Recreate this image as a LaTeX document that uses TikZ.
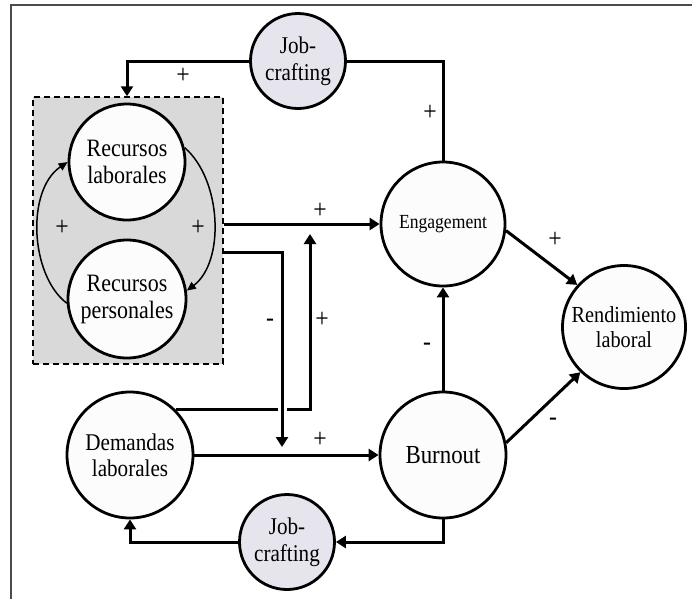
\documentclass[tikz,border=0pt]{standalone}
\usepackage{fontspec}
\setmainfont{Liberation Serif}[FakeStretch=0.88]
\usetikzlibrary{arrows.meta}
\definecolor{nodefill}{RGB}{252,252,252}
\definecolor{jcfill}{RGB}{230,228,236}
\definecolor{boxfill}{RGB}{217,217,217}
\begin{document}
\begin{tikzpicture}[x=1pt,y=-1pt,
  line/.style={line width=3pt},
  conn/.style={line width=3pt,-{Triangle[length=10pt,width=12pt]}},
  thin conn/.style={line width=1.5pt,-{Triangle[length=9pt,width=8pt]}},
  circ/.style={circle,draw,line width=2.8pt,fill=nodefill,inner sep=0pt,align=center},
  jc/.style={circ,fill=jcfill,minimum size=95pt,font=\fontsize{24}{27}\selectfont},
  lbl/.style={font=\fontsize{27}{27}\selectfont,inner sep=0pt},
  groupbox/.style={draw,line width=1.5pt,dash pattern=on 6pt off 4pt,fill=boxfill}]
\useasboundingbox (0,0) rectangle (692,598);
% outer frame (top and left visible)
\draw[line width=1.8pt,black!70] (11,600) -- (11,5) -- (694,5);
% group box
\node[groupbox,minimum width=190pt,minimum height=267pt,inner sep=0pt] (box) at (128,230.5) {};
% nodes
\node[jc] (jc1) at (298,61) {Job-\\crafting};
\node[circ,minimum size=116pt,font=\fontsize{25}{27}\selectfont] (rl) at (127,162) {Recursos\\laborales};
\node[circ,minimum size=118pt,font=\fontsize{25}{27}\selectfont] (rp) at (127,299) {Recursos\\personales};
\node[circ,minimum size=124pt,font=\fontsize{20}{22}\selectfont] (eng) at (443,224) {Engagement};
\node[circ,minimum size=123pt,font=\fontsize{23}{25}\selectfont] (rend) at (624,327) {Rendimiento\\laboral};
\node[circ,minimum size=126pt,font=\fontsize{26}{28}\selectfont] (burn) at (443,455) {Burnout};
\node[circ,minimum size=126pt,font=\fontsize{24}{26}\selectfont] (dem) at (130,455) {Demandas\\laborales};
\node[jc] (jc2) at (287,542) {Job-\\crafting};
% helper coordinates
\coordinate (boxout) at (223,252);
\coordinate (upend) at (310,234);
\coordinate (downend) at (282,447);
% connectors
\draw[conn] (jc1.west) -| (rl |- box.north);
\draw[line] (jc1.east) -| (eng.north);
\draw[conn] (box.east |- eng.west) -- (eng.west);
\draw[conn] (eng.-6) -- (rend.138);
\draw[conn] (burn.11) -- (rend.226);
\draw[conn] (burn.north) -- (eng.south);
\draw[conn] (dem.east) -- (burn.west);
\draw[conn] (dem.45) -| (upend);
\draw[draw=white,line width=9pt] (downend |- dem.45) ++(0,-7) -- ++(0,14);
\draw[conn] (boxout) -| (downend);
\draw[conn] (burn.south) |- (jc2.east);
\draw[conn] (jc2.west) -| (dem.south);
% curved arrows
\draw[thin conn] (rl.14) .. controls (222,180) and (225,262) .. (rp.8);
\draw[thin conn] (rp.184) .. controls (30,275) and (26,190) .. (rl.180);
% labels
\node[lbl] (p1) at (183,76) {+};
\node[lbl] (p2) at (430,113) {+};
\node[lbl] (p3) at (320,211) {+};
\node[lbl] (p4) at (555,240) {+};
\node[lbl] (m1) at (427,347) {-};
\node[lbl] (m2) at (553,422) {-};
\node[lbl] (p5) at (320,440) {+};
\node[lbl] (p6) at (322,320) {+};
\node[lbl] (m3) at (270,323) {-};
\node[lbl] (p7) at (62,228) {+};
\node[lbl] (p8) at (198,228) {+};
\end{tikzpicture}
\end{document}
